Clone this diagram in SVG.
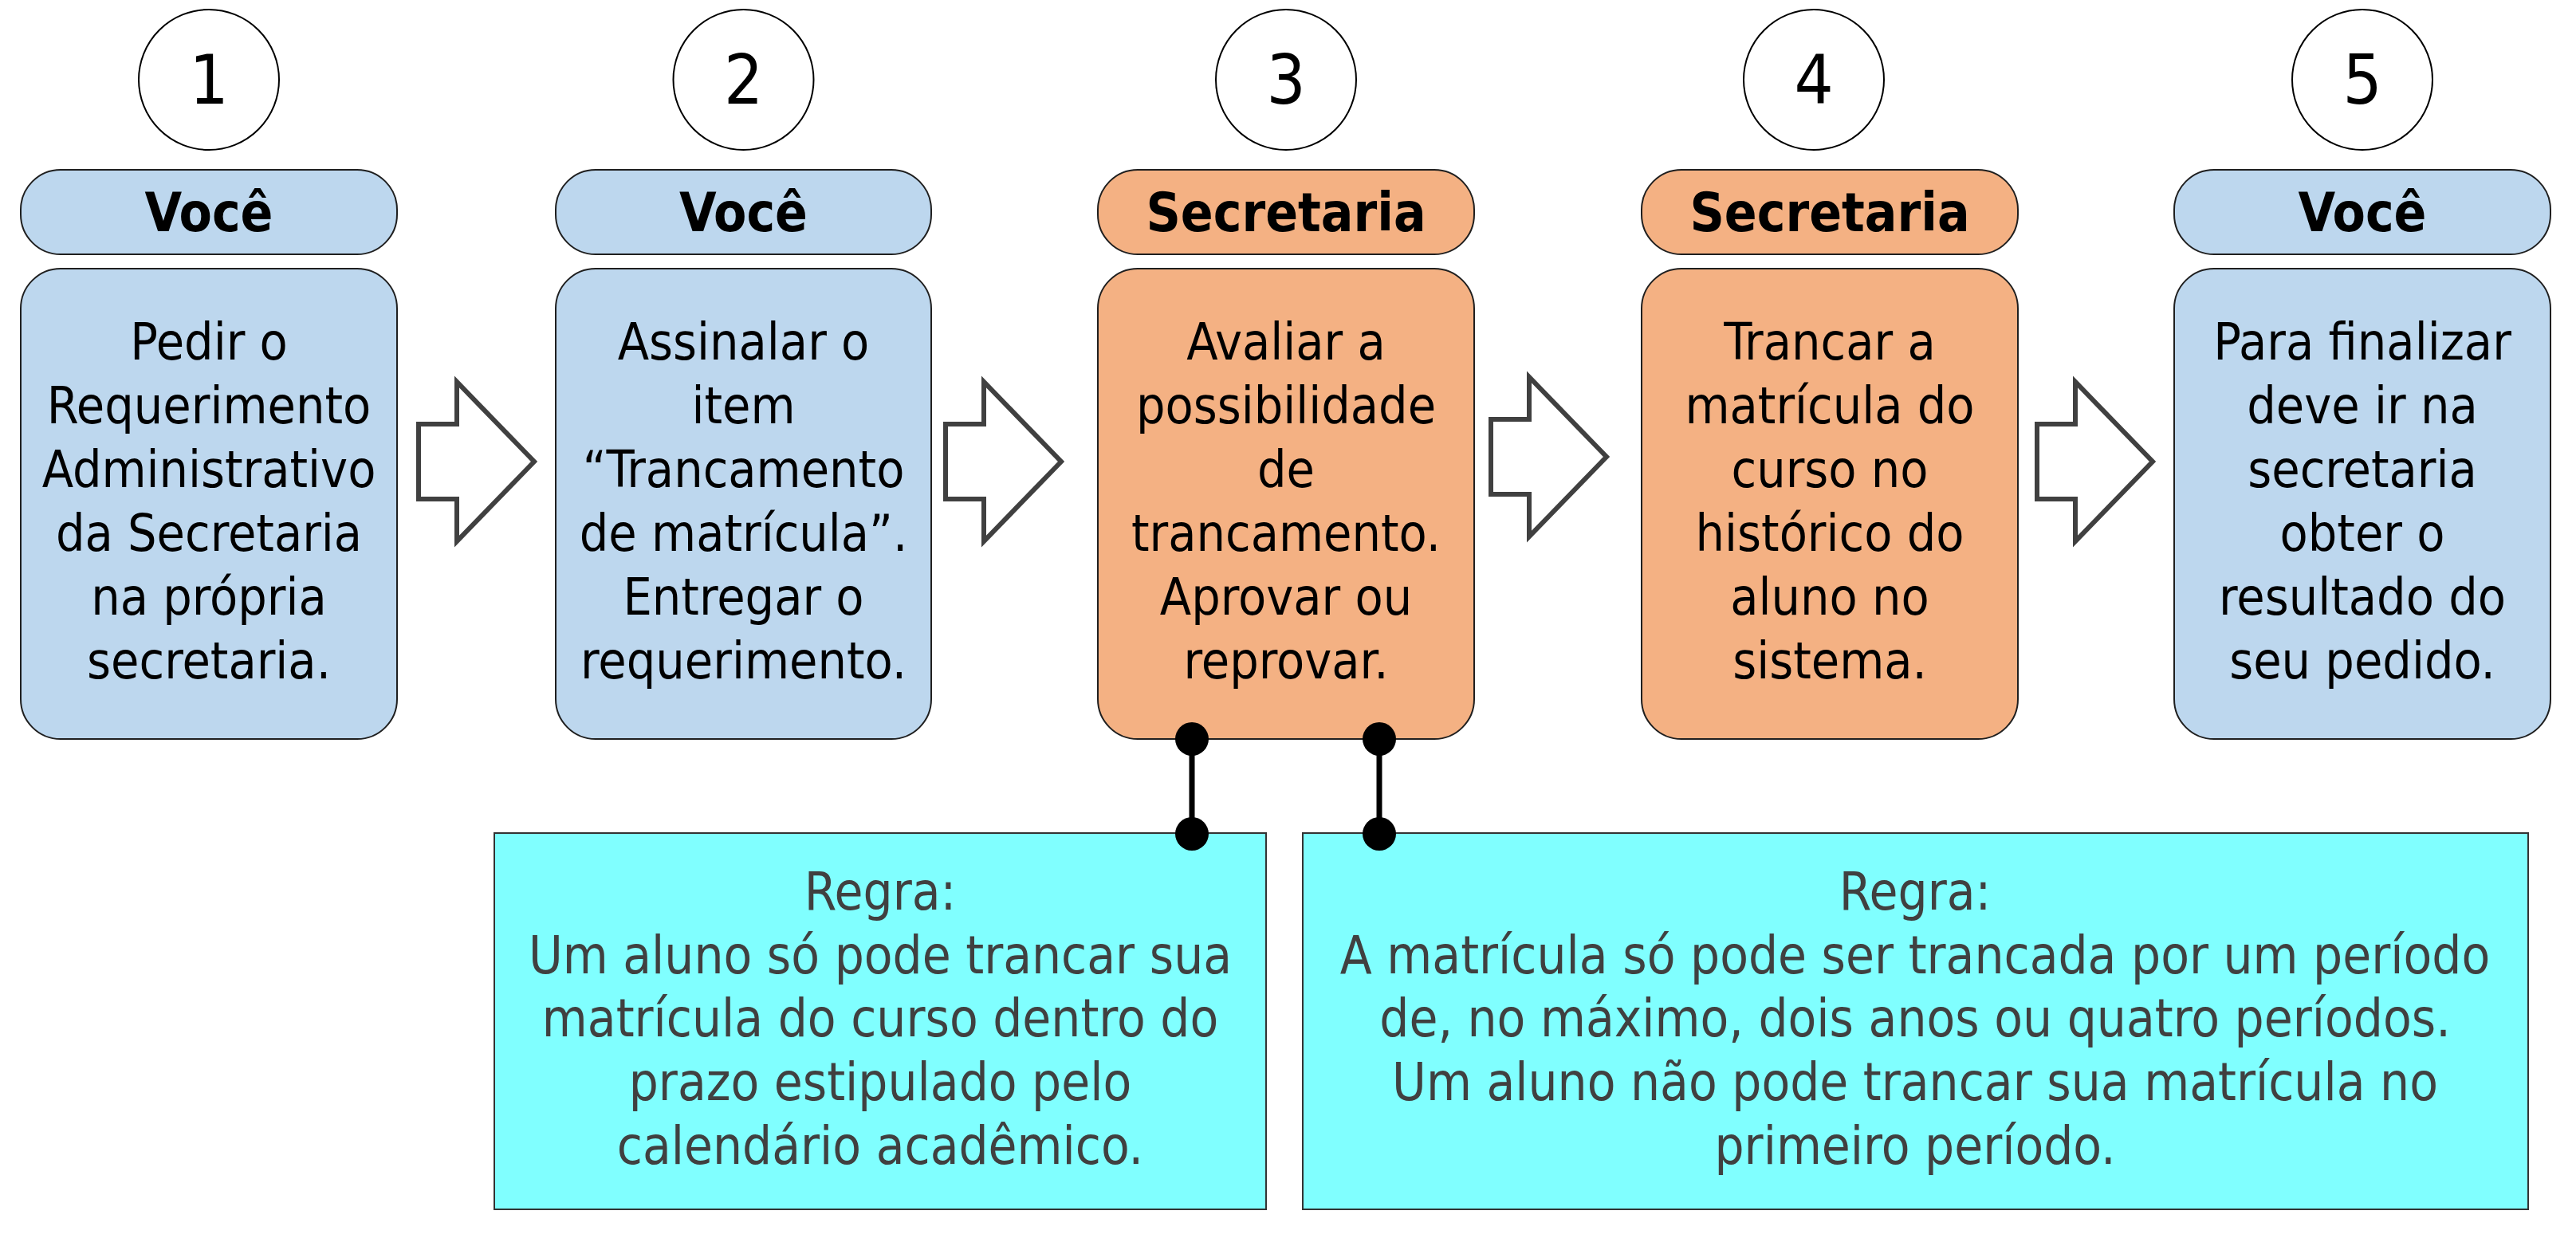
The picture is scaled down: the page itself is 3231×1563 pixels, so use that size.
<svg xmlns="http://www.w3.org/2000/svg" xmlns:xlink="http://www.w3.org/1999/xlink" width="3231" height="1563" viewBox="0 0 3231 1563">
<style>
  .num { font-family: "DejaVu Sans Condensed", "DejaVu Sans", sans-serif; font-stretch: condensed; font-size: 86px; fill: #000; text-anchor: middle; }
  .hdr { font-family: "DejaVu Sans Condensed", "DejaVu Sans", sans-serif; font-stretch: condensed; font-weight: bold; font-size: 67px; fill: #000; text-anchor: middle; }
  .body { font-family: "DejaVu Sans Condensed", "DejaVu Sans", sans-serif; font-stretch: condensed; font-size: 64px; fill: #000; text-anchor: middle; }
  .rule { font-family: "DejaVu Sans Condensed", "DejaVu Sans", sans-serif; font-stretch: condensed; font-size: 65px; fill: #404040; text-anchor: middle; }
  .circ { fill: #fff; stroke: #000; stroke-width: 2; }
  .blue { fill: #BDD7EE; stroke: #1f1f1f; stroke-width: 2; }
  .orange { fill: #F4B183; stroke: #1f1f1f; stroke-width: 2; }
  .cyan { fill: #80FFFF; stroke: #333; stroke-width: 2; }
  .arrow { fill: #fff; stroke: #404040; stroke-width: 6; stroke-linejoin: miter; }
  .link { stroke: #000; stroke-width: 7; fill: none; }
  .dot { fill: #000; }
</style>
<defs>
  <path id="bigArrow" class="arrow" d="M0,-47 H48 V-100 L145,0 L48,100 V47 H0 Z"/>
</defs>
<rect x="0" y="0" width="3231" height="1563" fill="#fff"/>

<g id="step1">
  <ellipse class="circ" cx="262" cy="100" rx="88" ry="88"/>
  <text class="num" x="262" y="130">1</text>
  <rect class="blue" x="26" y="213" width="472" height="106" rx="50" ry="50"/>
  <text class="hdr" x="262" y="290">Você</text>
  <rect class="blue" x="26" y="337" width="472" height="590" rx="50" ry="50"/>
  <text class="body" x="262" y="451">Pedir o</text>
  <text class="body" x="262" y="531">Requerimento</text>
  <text class="body" x="262" y="611">Administrativo</text>
  <text class="body" x="262" y="691">da Secretaria</text>
  <text class="body" x="262" y="771">na própria</text>
  <text class="body" x="262" y="851">secretaria.</text>
</g>

<g id="step2">
  <ellipse class="circ" cx="932.5" cy="100" rx="88" ry="88"/>
  <text class="num" x="932.5" y="130">2</text>
  <rect class="blue" x="697" y="213" width="471" height="106" rx="50" ry="50"/>
  <text class="hdr" x="932.5" y="290">Você</text>
  <rect class="blue" x="697" y="337" width="471" height="590" rx="50" ry="50"/>
  <text class="body" x="932.5" y="451">Assinalar o</text>
  <text class="body" x="932.5" y="531">item</text>
  <text class="body" x="932.5" y="611">“Trancamento</text>
  <text class="body" x="932.5" y="691">de matrícula”.</text>
  <text class="body" x="932.5" y="771">Entregar o</text>
  <text class="body" x="932.5" y="851">requerimento.</text>
</g>

<g id="step3">
  <ellipse class="circ" cx="1613" cy="100" rx="88" ry="88"/>
  <text class="num" x="1613" y="130">3</text>
  <rect class="orange" x="1377" y="213" width="472" height="106" rx="50" ry="50"/>
  <text class="hdr" x="1613" y="290">Secretaria</text>
  <rect class="orange" x="1377" y="337" width="472" height="590" rx="50" ry="50"/>
  <text class="body" x="1613" y="451">Avaliar a</text>
  <text class="body" x="1613" y="531">possibilidade</text>
  <text class="body" x="1613" y="611">de</text>
  <text class="body" x="1613" y="691">trancamento.</text>
  <text class="body" x="1613" y="771">Aprovar ou</text>
  <text class="body" x="1613" y="851">reprovar.</text>
</g>

<g id="step4">
  <ellipse class="circ" cx="2275" cy="100" rx="88" ry="88"/>
  <text class="num" x="2275" y="130">4</text>
  <rect class="orange" x="2059" y="213" width="472" height="106" rx="50" ry="50"/>
  <text class="hdr" x="2295" y="290">Secretaria</text>
  <rect class="orange" x="2059" y="337" width="472" height="590" rx="50" ry="50"/>
  <text class="body" x="2295" y="451">Trancar a</text>
  <text class="body" x="2295" y="531">matrícula do</text>
  <text class="body" x="2295" y="611">curso no</text>
  <text class="body" x="2295" y="691">histórico do</text>
  <text class="body" x="2295" y="771">aluno no</text>
  <text class="body" x="2295" y="851">sistema.</text>
</g>

<g id="step5">
  <ellipse class="circ" cx="2963" cy="100" rx="88" ry="88"/>
  <text class="num" x="2963" y="130">5</text>
  <rect class="blue" x="2727" y="213" width="472" height="106" rx="50" ry="50"/>
  <text class="hdr" x="2963" y="290">Você</text>
  <rect class="blue" x="2727" y="337" width="472" height="590" rx="50" ry="50"/>
  <text class="body" x="2963" y="451">Para finalizar</text>
  <text class="body" x="2963" y="531">deve ir na</text>
  <text class="body" x="2963" y="611">secretaria</text>
  <text class="body" x="2963" y="691">obter o</text>
  <text class="body" x="2963" y="771">resultado do</text>
  <text class="body" x="2963" y="851">seu pedido.</text>
</g>

<g id="rule1">
  <rect class="cyan" x="620" y="1045" width="968" height="472"/>
  <text class="rule" x="1104" y="1141">Regra:</text>
  <text class="rule" x="1104" y="1221">Um aluno só pode trancar sua</text>
  <text class="rule" x="1104" y="1300">matrícula do curso dentro do</text>
  <text class="rule" x="1104" y="1380">prazo estipulado pelo</text>
  <text class="rule" x="1104" y="1460">calendário acadêmico.</text>
</g>

<g id="rule2">
  <rect class="cyan" x="1634" y="1045" width="1537" height="472"/>
  <text class="rule" x="2402" y="1141">Regra:</text>
  <text class="rule" x="2402" y="1221">A matrícula só pode ser trancada por um período</text>
  <text class="rule" x="2402" y="1300">de, no máximo, dois anos ou quatro períodos.</text>
  <text class="rule" x="2402" y="1380">Um aluno não pode trancar sua matrícula no</text>
  <text class="rule" x="2402" y="1460">primeiro período.</text>
</g>

<g id="connectors">
  <use xlink:href="#bigArrow" href="#bigArrow" transform="translate(525,579)"/>
  <use xlink:href="#bigArrow" href="#bigArrow" transform="translate(1186,579)"/>
  <use xlink:href="#bigArrow" href="#bigArrow" transform="translate(1870,573)"/>
  <use xlink:href="#bigArrow" href="#bigArrow" transform="translate(2555,579)"/>
  <line class="link" x1="1495" y1="927" x2="1495" y2="1046"/>
  <circle class="dot" cx="1495" cy="927" r="21"/>
  <circle class="dot" cx="1495" cy="1046" r="21"/>
  <line class="link" x1="1730" y1="927" x2="1730" y2="1046"/>
  <circle class="dot" cx="1730" cy="927" r="21"/>
  <circle class="dot" cx="1730" cy="1046" r="21"/>
</g>
</svg>
